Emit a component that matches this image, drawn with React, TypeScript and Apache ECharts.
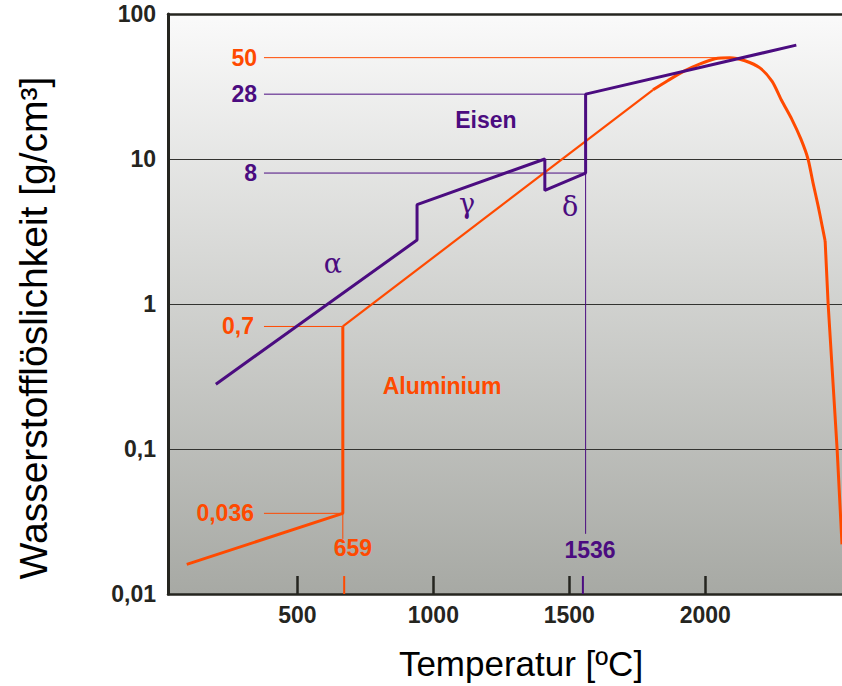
import React, { useEffect, useRef } from "react";
import * as echarts from "echarts";

// ---------- data ----------
const xTickValues = [500, 1000, 1500, 2000];
const yTickValues = [0.01, 0.1, 1, 10, 100];
const yTickLabels = ["0,01", "0,1", "1", "10", "100"];

// Eisen (iron) solubility curve: temperature [°C] / solubility [g/cm3]
const ironTemps = [200, 940, 940, 1410, 1410, 1560, 1560, 2335];
const ironSol = [0.28, 2.76, 4.84, 10, 6.07, 8, 28, 61];

// Aluminium: solid part + jump at melting point
const alSolidTemps = [93, 667, 667];
const alSolidSol = [0.016, 0.036, 0.7];
// Aluminium: liquid straight part
const alLiquidTemps = [667, 1808];
const alLiquidSol = [0.7, 30];
// Aluminium: curve near boiling (rounded part)
const alCurveTemps = [1808, 1863, 1922, 1981, 2036, 2091, 2146, 2201, 2246, 2282, 2319, 2352, 2378, 2396, 2415, 2430, 2441];
const alCurveSol = [30, 34.8, 40.4, 45.3, 49.2, 50, 47.6, 42.5, 34.3, 25.1, 18.7, 13.7, 10, 6.9, 4.77, 3.45, 2.72];
// Aluminium: steep drop at the right edge
const alDropTemps = [2441, 2452, 2485, 2503];
const alDropSol = [2.72, 1, 0.1, 0.022];

// reference levels (horizontal guide lines)
const refStart = 377;
const refLevels = [50, 28, 8, 0.7, 0.036];
const refLabels = ["50", "28", "8", "0,7", "0,036"];
const refEnds = [2090, 1560, 1560, 667, 667];
const refOwners = ["al", "fe", "fe", "al", "al"];

// melting points (vertical guide lines)
const meltTemps = [667, 1560];
const meltTops = [0.036, 8];
const meltBottoms = [0.024, 0.026];
const meltLabels = ["659", "1536"];
const meltLabelX = [704, 1576];
const meltLabelY = [0.0207, 0.02];
const meltTickX = [672, 1550];
const meltTickTop = 0.0133;
const meltOwners = ["al", "fe"];

// free text
const textNames = ["Eisen", "Aluminium", "α", "γ", "δ"];
const textX = [1193, 1032, 630, 1124, 1503];
const textY = [18.6, 0.27, 1.9, 4.9, 4.7];
const textOwners = ["fe", "al", "fe", "fe", "fe"];
const textSerif = [false, false, true, true, true];

// ---------- styles ----------
const AL = "#ff4a00";
const FE = "#4b0c80";
const DARK = "#25251f";
const FONT = "'Liberation Sans', Arial, Helvetica, sans-serif";
const colorOf = (o: string) => (o === "al" ? AL : FE);
const zip = (xs: number[], ys: number[]) => xs.map((x, i) => [x, ys[i]]);

const lineSeries = (data: number[][], color: string, width: number, z = 3, smooth: number | boolean = false) => ({
  type: "line",
  data,
  symbol: "none",
  silent: true,
  smooth,
  z,
  lineStyle: { color, width },
  emphasis: { disabled: true },
});

export default function App() {
  const ref = useRef<HTMLDivElement>(null);

  useEffect(() => {
    if (!ref.current) return;
    const chart = echarts.init(ref.current, null, { renderer: "svg" });

    const series: any[] = [];
    // reference lines
    refLevels.forEach((lv, i) => {
      series.push(lineSeries([[refStart, lv], [refEnds[i], lv]], colorOf(refOwners[i]), 1, 2));
    });
    // melting verticals and ticks
    meltTemps.forEach((t, i) => {
      series.push(lineSeries([[t, meltTops[i]], [t, meltBottoms[i]]], colorOf(meltOwners[i]), 1, 2));
      series.push(lineSeries([[meltTickX[i], 0.01], [meltTickX[i], meltTickTop]], colorOf(meltOwners[i]), 2, 2));
    });
    // aluminium
    series.push(lineSeries(zip(alSolidTemps, alSolidSol), AL, 3));
    series.push(lineSeries(zip(alLiquidTemps, alLiquidSol), AL, 2.2));
    series.push(lineSeries(zip(alCurveTemps, alCurveSol), AL, 3, 3, 0.25));
    series.push(lineSeries(zip(alDropTemps, alDropSol), AL, 3));
    // iron
    series.push(lineSeries(zip(ironTemps, ironSol), FE, 3, 4));

    // labels
    const labelData: any[] = [];
    refLevels.forEach((lv, i) => {
      labelData.push({
        name: refLabels[i],
        value: [refStart, lv],
        label: { position: "left", distance: i >= 3 ? 10 : 7, color: colorOf(refOwners[i]) },
      });
    });
    meltLabels.forEach((s, i) => {
      labelData.push({
        name: s,
        value: [meltLabelX[i], meltLabelY[i]],
        label: { position: "inside", color: colorOf(meltOwners[i]) },
      });
    });
    textNames.forEach((s, i) => {
      labelData.push({
        name: s,
        value: [textX[i], textY[i]],
        label: textSerif[i]
          ? { position: "inside", color: FE, fontFamily: "'DejaVu Serif', 'Liberation Serif', serif", fontWeight: "normal", fontSize: 27 }
          : { position: "inside", color: colorOf(textOwners[i]) },
      });
    });
    series.push({
      type: "scatter",
      data: labelData,
      symbolSize: 0,
      silent: true,
      z: 5,
      itemStyle: { color: "transparent", opacity: 1 },
      emphasis: { disabled: true },
      label: {
        show: true,
        opacity: 1,
        textBorderWidth: 0,
        formatter: (p: any) => p.name,
        fontFamily: FONT,
        fontWeight: "bold",
        fontSize: 23,
      },
    });

    chart.setOption({
      animation: false,
      grid: {
        left: 168,
        right: 0,
        top: 14,
        bottom: 92,
        show: true,
        borderWidth: 0,
        backgroundColor: new echarts.graphic.LinearGradient(0, 0, 0, 1, [
          { offset: 0, color: "#fafafa" },
          { offset: 1, color: "#a7a9a4" },
        ]),
      },
      xAxis: [
        {
          type: "value",
          min: 24,
          max: 2503,
          axisLine: { show: true, lineStyle: { color: DARK, width: 2.5 } },
          axisTick: {
            show: true,
            inside: true,
            length: 18,
            customValues: xTickValues,
            lineStyle: { color: DARK, width: 2.5 },
          },
          axisLabel: {
            customValues: xTickValues,
            margin: 9,
            color: DARK,
            fontFamily: FONT,
            fontWeight: "bold",
            fontSize: 23,
            formatter: (v: number) => String(Math.round(v)),
          },
          splitLine: { show: false },
        },
        {
          type: "value",
          position: "top",
          min: 24,
          max: 2503,
          axisLine: { show: true, lineStyle: { color: DARK, width: 2.5 } },
          axisTick: { show: false },
          axisLabel: { show: false },
          splitLine: { show: false },
        },
      ],
      yAxis: {
        type: "log",
        logBase: 10,
        min: yTickValues[0],
        max: yTickValues[yTickValues.length - 1],
        axisLine: { show: true, lineStyle: { color: DARK, width: 3 } },
        axisTick: { show: false },
        minorTick: { show: false },
        axisLabel: {
          margin: 12,
          color: DARK,
          fontFamily: FONT,
          fontWeight: "bold",
          fontSize: 23,
          formatter: (v: number) => yTickLabels[Math.round(Math.log10(v)) + 2],
        },
        splitLine: { show: true, lineStyle: { color: "#333330", width: 1 } },
      },
      graphic: [
        {
          type: "text",
          x: 521,
          y: 663,
          style: {
            text: "Temperatur [ºC]",
            fontFamily: FONT,
            fontSize: 35,
            fill: "#000",
            textAlign: "center",
            textVerticalAlign: "middle",
          },
        },
        {
          type: "text",
          x: 33,
          y: 328,
          rotation: Math.PI / 2,
          style: {
            text: "Wasserstofflöslichkeit [g/cm³]",
            fontFamily: FONT,
            fontSize: 39,
            fill: "#000",
            textAlign: "center",
            textVerticalAlign: "middle",
          },
        },
      ],
      series,
    });

    return () => chart.dispose();
  }, []);

  return (
    <div
      ref={ref}
      style={{ position: "fixed", left: 0, top: 0, width: 842, height: 686, background: "#fff" }}
    />
  );
}
